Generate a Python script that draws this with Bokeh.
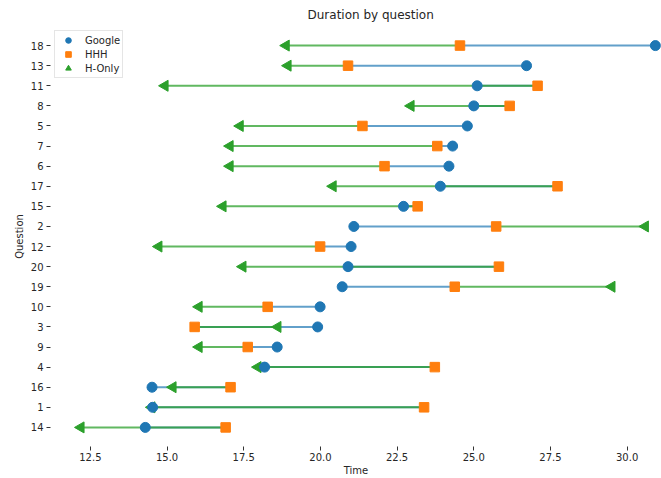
import math
from bokeh.plotting import figure
from bokeh.models import FactorRange, Range1d, ColumnDataSource, FixedTicker, NumeralTickFormatter
from bokeh.embed import file_html
from bokeh.resources import INLINE

# Data (top-to-bottom order as shown)
questions = ["18", "13", "11", "8", "5", "7", "6", "17", "15", "2",
             "12", "20", "19", "10", "3", "9", "4", "16", "1", "14"]
google = [30.92, 26.72, 25.11, 25.00, 24.79, 24.31, 24.19, 23.91, 22.71, 21.09,
          21.00, 20.90, 20.71, 19.99, 19.91, 18.59, 18.18, 14.51, 14.53, 14.29]
hhh = [24.55, 20.90, 27.08, 26.17, 21.37, 23.81, 22.09, 27.73, 23.17, 25.73,
       19.99, 25.82, 24.38, 18.28, 15.90, 17.63, 23.73, 17.07, 23.38, 16.91]
honly = [18.88, 18.94, 14.93, 22.95, 17.38, 17.05, 17.05, 20.41, 16.82, 30.59,
         14.73, 17.47, 29.50, 16.04, 18.61, 16.04, 17.96, 15.19, 14.50, 12.19]
x_ticks = [12.5, 15.0, 17.5, 20.0, 22.5, 25.0, 27.5, 30.0]

src = ColumnDataSource(dict(q=questions, google=google, hhh=hhh, honly=honly))

BLUE = "#1f77b4"
ORANGE = "#ff7f0e"
GREEN = "#2ca02c"
TXT = "#262626"
FONT = "DejaVu Sans"

p = figure(width=661, height=478,
           y_range=FactorRange(factors=list(reversed(questions)),
                               range_padding=0.045, range_padding_units="percent"),
           x_range=Range1d(11.2, 31.12),
           output_backend="svg", toolbar_location=None,
           title="Duration by question",
           min_border_left=50, min_border_right=0, min_border_top=0, min_border_bottom=0)

p.title.text_font = FONT
p.title.text_font_size = "12px"
p.title.text_font_style = "normal"
p.title.text_color = TXT
p.title.align = "left"
p.title.offset = 257
p.title.standoff = 10

p.outline_line_color = None
p.xgrid.visible = False
p.ygrid.visible = False

for ax in (p.xaxis[0], p.yaxis[0]):
    ax.axis_line_color = None
    ax.major_tick_out = 4
    ax.major_tick_in = 0
    ax.minor_tick_line_color = None
    ax.major_tick_line_color = "#333333"
    ax.major_label_text_font = FONT
    ax.major_label_text_font_size = "10px"
    ax.major_label_text_color = TXT
    ax.axis_label_text_font = FONT
    ax.axis_label_text_font_size = "10px"
    ax.axis_label_text_font_style = "normal"
    ax.axis_label_text_color = TXT
    ax.major_label_standoff = 3
    ax.axis_label_standoff = 3

p.xaxis.major_label_standoff = 2
p.xaxis.axis_label_standoff = 1
p.xaxis.ticker = FixedTicker(ticks=x_ticks)
p.xaxis.formatter = NumeralTickFormatter(format="0.0")
p.xaxis.axis_label = "Time"
p.yaxis.axis_label = "Question"

p.segment(x0="google", y0="q", x1="hhh", y1="q", source=src,
          line_color=BLUE, line_alpha=0.7, line_width=2)
p.segment(x0="hhh", y0="q", x1="honly", y1="q", source=src,
          line_color=GREEN, line_alpha=0.75, line_width=2)

p.scatter(x="honly", y="q", source=src, marker="triangle", size=11,
          angle=math.pi / 2, fill_color=GREEN, line_color=GREEN, legend_label="H-Only")
p.scatter(x="google", y="q", source=src, marker="circle", size=10,
          fill_color=BLUE, line_color=BLUE, legend_label="Google")
p.scatter(x="hhh", y="q", source=src, marker="square", size=9.5,
          fill_color=ORANGE, line_color=ORANGE, legend_label="HHH")

leg = p.legend[0]
items = {it.label.value: it for it in leg.items}
leg.items = [items["Google"], items["HHH"], items["H-Only"]]
leg.location = "top_left"
leg.margin = 4
leg.padding = 2
leg.spacing = 0
leg.glyph_width = 22
leg.glyph_height = 14
leg.label_height = 14
leg.label_standoff = 6
leg.label_text_font = FONT
leg.label_text_font_size = "10px"
leg.label_text_color = TXT
leg.border_line_color = "#cccccc"
leg.border_line_width = 1
leg.background_fill_alpha = 0.8

open("out.html", "w").write(file_html(p, INLINE))
